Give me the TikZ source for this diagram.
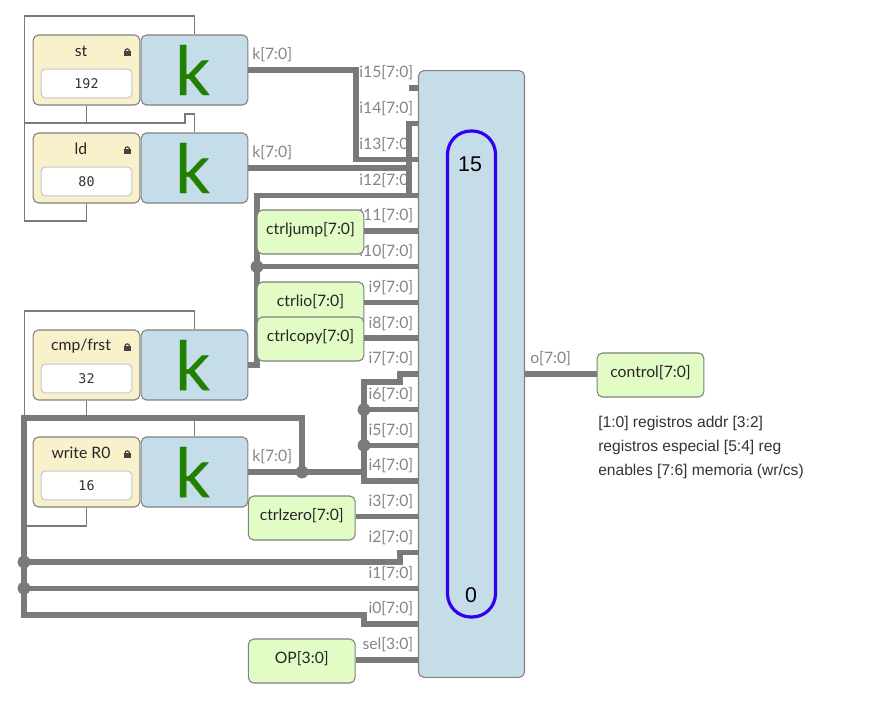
\documentclass[tikz,border=0pt]{standalone}
\usepackage{fontspec}
\setmainfont{Lato}
\newfontfamily\notefont{Liberation Sans}
\newfontfamily\valfont{DejaVu Sans Mono}
\newfontfamily\kfont[FakeBold=0.6]{Lato}
\usetikzlibrary{calc}

\definecolor{wiregray}{HTML}{7A7A7A}
\definecolor{labelgray}{HTML}{858585}
\definecolor{edgegray}{HTML}{808080}
\definecolor{boxblue}{HTML}{C5DDE9}
\definecolor{boxcream}{HTML}{F8F1CC}
\definecolor{boxgreen}{HTML}{E1FCC5}
\definecolor{kgreen}{HTML}{228000}
\definecolor{muxblue}{HTML}{3300EE}
\definecolor{lockgray}{HTML}{444444}

\tikzset{
  thinwire/.style={draw=wiregray,line width=1.3pt},
  busw/.style={draw=wiregray,line width=4pt},
  portlabel/.style={anchor=east,inner sep=0pt,text=labelgray,font=\fontsize{11.8}{14}\selectfont},
  klabel/.style={anchor=west,inner sep=0pt,text=labelgray,font=\fontsize{11.8}{14}\selectfont},
  regbox/.style={draw=edgegray,line width=0.8pt,fill=boxcream,rounded corners=4pt,minimum width=80pt,minimum height=52.5pt,inner sep=0pt},
  valbox/.style={draw=black!22,line width=0.8pt,fill=white,rounded corners=3pt,minimum width=68pt,minimum height=21.5pt,inner sep=0pt,font=\valfont\fontsize{10}{12}\selectfont,text=black!80},
  regname/.style={inner sep=0pt,text=black!85,font=\fontsize{11.8}{14}\selectfont},
  kbox/.style={draw=edgegray,line width=0.8pt,fill=boxblue,rounded corners=4pt,minimum width=80pt,minimum height=52.5pt,inner sep=0pt},
  bigk/.style={inner sep=0pt,text=kgreen,font=\kfont\fontsize{51}{51}\selectfont},
  ctrlbox/.style={draw=edgegray,line width=0.8pt,fill=boxgreen,rounded corners=4pt,minimum width=80pt,minimum height=33pt,inner sep=0pt,text height=9pt,text depth=6pt,text=black!85,font=\fontsize{11.8}{14}\selectfont},
}

\begin{document}
\begin{tikzpicture}[x=0.75pt,y=-0.75pt]
  \useasboundingbox (0,0) rectangle (888,710);

  \node[draw=edgegray,line width=0.8pt,fill=boxblue,rounded corners=4pt,minimum width=79.5pt,minimum height=455pt,inner sep=0pt] (mux) at (471.5,374) {};

  % ports on the west side of the mux
  \foreach \i in {0,...,15} {
    \coordinate (p\i) at (418,{624-35.73*\i});
    \node[portlabel] (l\i) at (413.5,{609-35.73*\i}) {i\i[7:0]};
  }
  \coordinate (psel) at (418,660);
  \node[portlabel] (lsel) at (413.5,645) {sel[3:0]};

  \foreach \n/\y in {st/70,ld/168,cmp/365,wr/472} {
    \node[regbox] (\n) at (86.5,\y) {};
    \node[kbox] (\n k) at (194.5,\y) {};
    \node[bigk] (\n big) at (192.5,\y) {k};
  }

  % thin wires of the upper pair
  \coordinate (a1) at (24.5,16);
  \coordinate (a2) at (24.5,123);
  \coordinate (a3) at (24.5,221);
  \coordinate (a4) at (185,123);
  \coordinate (a5) at (185,114);
  \draw[thinwire] (stk.north) -- (stk.north |- a1) -- (a1) -- (a2) -- (a3) -- (ld.south |- a3) -- (ld.south);
  \draw[thinwire] (st.south) -- (st.south |- a2);
  \draw[thinwire] (a2) -- (a4) -- (a5) -- (ldk.north |- a5) -- (ldk.north);

  % thin wires of the lower pair
  \coordinate (b1) at (24.5,311);
  \coordinate (b2) at (24.5,418);
  \coordinate (b3) at (24.5,526);
  \draw[thinwire] (cmpk.north) -- (cmpk.north |- b1) -- (b1) -- (b2);
  \draw[thinwire] (cmp.south) -- (cmp.south |- b2);
  \draw[thinwire] (wrk.north) -- (wrk.north |- b2);
  \draw[thinwire] (wr.south) -- (wr.south |- b3) -- (b3);

  \coordinate (c1) at (356,70);
  \coordinate (c2) at (409,168);
  \coordinate (c3) at (257,195);
  \coordinate (c4) at (257,365);
  \coordinate (j1) at (c3 |- p10);
  \draw[busw] (stk.east) -- (c1) -- (c1 |- p13) -- (p13);
  \draw[busw] (ldk.east) -- (c2);
  \draw[busw] (p14) -- (c2 |- p14) -- (c2 |- p12);
  \draw[busw] (c2 |- p15) -- (p15);
  \draw[busw] (p12) -- (c3 |- p12) -- (c4) -- (cmpk.east |- c4);
  \draw[busw] (j1) -- (p10);

  \coordinate (d1) at (302,472);
  \coordinate (d2) at (364,472);
  \coordinate (d3) at (364,382);
  \coordinate (d4) at (400,382);
  \coordinate (j2) at (d2 |- p5);
  \coordinate (j3) at (d2 |- p6);
  \coordinate (e1) at (24,418);
  \coordinate (e2) at (24,615);
  \coordinate (e3) at (364,615);
  \coordinate (j4) at (24,562);
  \coordinate (j5) at (e1 |- p1);
  \coordinate (e4) at (400,562);
  \draw[busw] (wrk.east) -- (d2);
  \draw[busw] (p4) -- (d2 |- p4) -- (d3) -- (d4) -- (d4 |- p7) -- (p7);
  \draw[busw] (j2) -- (p5);
  \draw[busw] (j3) -- (p6);
  \draw[busw] (d1) -- (d1 |- e1) -- (e1) -- (e2) -- (e3) -- (e3 |- p0) -- (p0);
  \draw[busw] (j4) -- (e4) -- (e4 |- p2) -- (p2);
  \draw[busw] (j5) -- (p1);

  \foreach \j in {j1,j2,j3,j4,j5,d1}
    \path[fill=wiregray] (\j) circle [radius=4.8pt];

  \node[ctrlbox] (ctrljump) at (310.5,232) {ctrljump[7:0]};
  \node[ctrlbox] (ctrlio) at (310.5,304) {ctrlio[7:0]};
  \node[ctrlbox] (ctrlcopy) at (310.5,339) {ctrlcopy[7:0]};
  \node[ctrlbox] (ctrlzero) at (301.75,518) {ctrlzero[7:0]};
  \node[ctrlbox] (op) at (301.75,661) {OP[3:0]};
  \node[ctrlbox] (control) at (650.5,375) {control[7:0]};

  \draw[busw] (ctrljump.east |- p11) -- (p11);
  \draw[busw] (ctrlio.east |- p9) -- (p9);
  \draw[busw] (ctrlcopy.east |- p8) -- (p8);
  \draw[busw] (ctrlzero.east |- p3) -- (p3);
  \draw[busw] (op.east |- psel) -- (psel);
  \draw[busw] (mux.east |- p7) -- (control.west |- p7);

  \node[klabel] (k1) at (252,55) {k[7:0]};
  \node[klabel] (k2) at (252,153) {k[7:0]};
  \node[klabel] (k3) at (252,457) {k[7:0]};
  \node[klabel] (lo) at (530,359) {o[7:0]};

  % register name, lock and value
  \foreach \n/\t/\v in {st/{st}/192,ld/{ld}/80,cmp/{cmp/frst}/32,wr/{write R0}/16} {
    \node[regname] (\n name) at ($(\n)+(-5.5,-19)$) {\t};
    \node[valbox] (\n val) at ($(\n)+(0,13.5)$) {\v};
    \path[fill=lockgray] ($(\n)+(37.5,-19)$) rectangle ($(\n)+(44,-14)$);
    \draw[lockgray,line width=0.9pt] ($(\n)+(38.6,-19)$) arc [start angle=180,end angle=0,radius=1.6pt];
  }

  \draw[muxblue,line width=2.4pt,rounded corners=17.5pt] (447.5,131) rectangle (495.5,617);
  \node[inner sep=0pt,font=\notefont\fontsize{16}{18}\selectfont] (top) at (470,164) {15};
  \node[inner sep=0pt,font=\notefont\fontsize{16}{18}\selectfont] (bot) at (471,595) {0};

  \node[anchor=north west,inner sep=0pt,align=left,text=black!80,font=\notefont\fontsize{11.7}{18}\selectfont] (note) at (598,416) {[1:0] registros addr [3:2]\\registros especial [5:4] reg\\enables [7:6] memoria (wr/cs)};
\end{tikzpicture}
\end{document}
